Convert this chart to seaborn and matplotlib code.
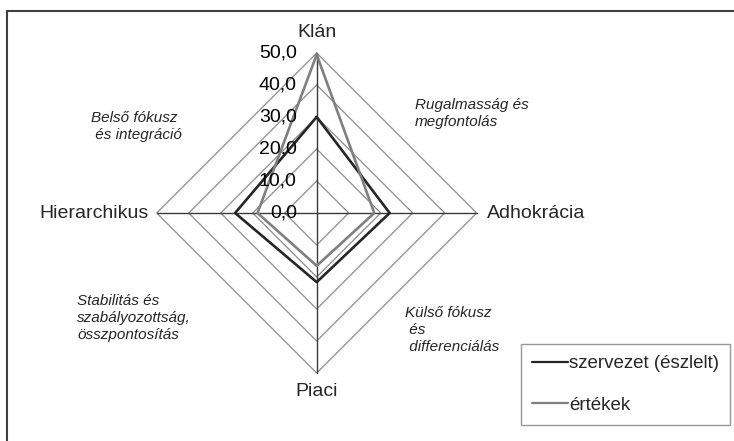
import numpy as np
import pandas as pd
import matplotlib
matplotlib.use('Agg')
import matplotlib.pyplot as plt
import seaborn as sns

# data
categories = ['Klán', 'Adhokrácia', 'Piaci', 'Hierarchikus']
szervezet = [30.0, 22.8, 21.6, 25.5]
ertekek = [49.5, 18.0, 16.5, 18.5]
series_names = ['szervezet (észlelt)', 'értékek']
ring_values = [10, 20, 30, 40, 50]
tick_labels = ['0,0', '10,0', '20,0', '30,0', '40,0', '50,0']

sns.set_style('white')
plt.rcParams['font.family'] = ['Liberation Sans', 'DejaVu Sans']

angles = np.deg2rad([0, 90, 180, 270])


def to_xy(r):
    r = np.asarray(r, dtype=float)
    return r * np.sin(angles), r * np.cos(angles)


# long table for seaborn (closed polygons)
rows = []
for name, vals in zip(series_names, [szervezet, ertekek]):
    xs, ys = to_xy(vals)
    for i in list(range(len(categories))) + [0]:
        rows.append({'series': name, 'x': xs[i], 'y': ys[i]})
df = pd.DataFrame(rows)

fig = plt.figure(figsize=(7.34, 4.41), dpi=100)
ax = fig.add_axes([0, 0, 1, 1])
ax.set_xlim(-316.7 / 3.2, (734 - 316.7) / 3.2)
ax.set_ylim(-(441 - 213) / 3.2, 213 / 3.2)
ax.axis('off')

# grid rings
for rv in ring_values:
    xs, ys = to_xy([rv] * 4)
    ax.plot(np.append(xs, xs[0]), np.append(ys, ys[0]), color='#8c8c8c', lw=0.9, zorder=1)
# spokes
for a in angles:
    ax.plot([0, 50 * np.sin(a)], [0, 50 * np.cos(a)], color='#3a3a3a', lw=1.0, zorder=1)

sns.lineplot(data=df, x='x', y='y', hue='series', sort=False, estimator=None,
             palette=['#262626', '#7f7f7f'], linewidth=1.9, ax=ax, legend=True, zorder=3)

# radial tick labels
for v, lab in zip([0] + ring_values, tick_labels):
    ax.text(-6.2, v, lab, ha='right', va='center', fontsize=14, color='black', zorder=4)

# category labels
ax.text(0, 56.3, 'Klán', ha='center', va='center', fontsize=14)
ax.text(53.1, 0, 'Adhokrácia', ha='left', va='center', fontsize=14)
ax.text(-52.6, 0, 'Hierarchikus', ha='right', va='center', fontsize=14)
ax.text(0, -55.9, 'Piaci', ha='center', va='center', fontsize=14)

# quadrant notes
note_kw = dict(fontsize=11, style='italic', ha='left', va='center', linespacing=1.3)
ax.text(-70.5, 27.0, 'Belső fókusz\n és integráció', **note_kw)
ax.text(30.7, 31.1, 'Rugalmasság és\nmegfontolás', **note_kw)
ax.text(-74.9, -32.8, 'Stabilitás és\nszabályozottság,\nösszpontosítás', **note_kw)
ax.text(27.6, -36.6, 'Külső fókusz\n és\n differenciálás', **note_kw)

leg = ax.legend(loc='upper left', bbox_to_anchor=(521 / 734, 1 - 344 / 441),
                bbox_transform=fig.transFigure, fontsize=13.5, frameon=True,
                fancybox=False, edgecolor='#7f7f7f', handlelength=1.9,
                handletextpad=0.05, labelspacing=1.3, borderpad=0.6,
                borderaxespad=0, title=None)
leg.get_frame().set_linewidth(1.0)
for line in leg.get_lines():
    line.set_linewidth(1.6)

# outer chart border
fig.add_artist(plt.Line2D([7 / 734, 7 / 734], [0, 1 - 11 / 441], transform=fig.transFigure,
                          color='#404040', lw=1.5))
fig.add_artist(plt.Line2D([7 / 734, 1], [1 - 11 / 441, 1 - 11 / 441], transform=fig.transFigure,
                          color='#404040', lw=1.5))

fig.savefig('out.png', dpi=100)
